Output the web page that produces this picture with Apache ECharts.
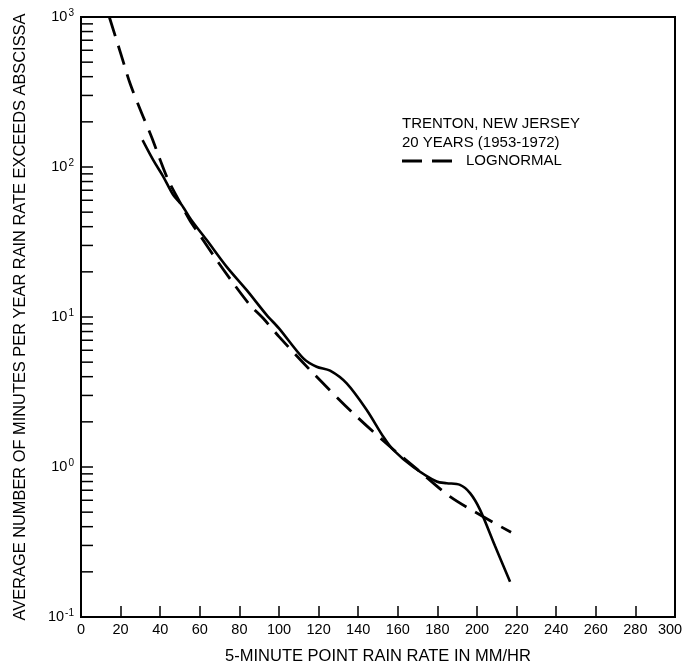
<!DOCTYPE html>
<html>
<head>
<meta charset="utf-8">
<script src="https://cdn.jsdelivr.net/npm/echarts@6/dist/echarts.min.js"></script>
<style>
html,body{margin:0;padding:0;background:#fff;}
#chart{width:685px;height:662px;}
</style>
</head>
<body>
<div id="chart"></div>
<script>
// Observed curve (solid)
const observedRate = [31.1, 36.5, 41.6, 46.6, 50.8, 55.9, 63.5, 73.6, 83.7, 93.8, 100, 112.3, 119, 125.8, 134.2, 144.3, 152.7, 157.7, 167.8, 179.6, 184.7, 191.4, 196.5, 201.5, 209, 216.7];
const observedMinutes = [151, 111, 86, 65, 56, 44, 32.6, 21.6, 15.1, 10.3, 8.4, 5.3, 4.66, 4.39, 3.61, 2.4, 1.59, 1.3, 1.0, 0.80, 0.78, 0.76, 0.67, 0.52, 0.30, 0.172];
// Lognormal fit (dashed)
const lognormalRate = [14.3, 20, 24.7, 30, 35.7, 39.9, 44, 50, 55, 60.1, 68.5, 76.9, 85.4, 92, 100, 115.7, 137.5, 156, 170, 186.4, 203.2, 217.2];
const lognormalMinutes = [1000, 575, 363, 240, 158, 112, 82, 58, 44, 35, 24, 16.8, 12.0, 9.8, 7.4, 4.43, 2.28, 1.37, 0.96, 0.634, 0.466, 0.367];
// Axis ticks
const yMajorTicks = [0.1, 1, 10, 100, 1000];
const yMinorTicks = [0.2,0.3,0.4,0.5,0.6,0.7,0.8,0.9, 2,3,4,5,6,7,8,9, 20,30,40,50,60,70,80,90, 200,300,400,500,600,700,800,900];
const titleLines = ['TRENTON, NEW JERSEY', '20 YEARS (1953-1972)'];
const legendName = 'LOGNORMAL';
const xAxisName = '5-MINUTE POINT RAIN RATE IN MM/HR';
const yAxisName = 'AVERAGE NUMBER OF MINUTES PER YEAR RAIN RATE EXCEEDS ABSCISSA';

const FONT = '"Liberation Sans", Arial, Helvetica, sans-serif';
const INK = '#000';

const chart = echarts.init(document.getElementById('chart'), null, {renderer: 'canvas'});

const zip = (xs, ys) => xs.map((x, i) => [x, ys[i]]);

chart.setOption({
  animation: false,
  backgroundColor: '#fff',
  textStyle: {fontFamily: FONT, color: INK},
  grid: {left: 81, right: 10, top: 17, bottom: 45, containLabel: false, outerBoundsMode: 'none',
         show: true, borderColor: INK, borderWidth: 2, backgroundColor: 'transparent'},
  title: {
    text: titleLines.join('\n'),
    left: 402, top: 114, padding: 0,
    textStyle: {fontFamily: FONT, fontSize: 15, fontWeight: 'normal', color: INK, lineHeight: 19}
  },
  legend: {
    data: [{name: legendName, icon: 'path://M0,0H20V3H0Z M30,0H50V3H30Z'}],
    left: 402, top: 152, padding: 0,
    itemWidth: 50, itemHeight: 3,
    textStyle: {fontFamily: FONT, fontSize: 15, color: INK, lineHeight: 18, padding: [0, 0, 0, 9]}
  },
  xAxis: {
    type: 'value', min: 0, max: 300, interval: 20,
    name: xAxisName, nameLocation: 'middle', nameGap: 31,
    nameTextStyle: {fontFamily: FONT, fontSize: 16.5, color: INK},
    axisLine: {show: true, lineStyle: {color: INK, width: 2}},
    axisTick: {show: true, inside: true, length: 11, lineStyle: {color: INK, width: 1.5}},
    axisLabel: {
      fontFamily: FONT, fontSize: 14.5, color: INK, margin: 5,
      formatter: function (v) { return v === 300 ? '{e|300}' : String(v); },
      rich: {e: {fontFamily: FONT, fontSize: 14.5, color: INK, padding: [0, 10, 0, 0]}}
    },
    splitLine: {show: false}
  },
  yAxis: {
    type: 'log', logBase: 10, min: 0.1, max: 1000,
    name: yAxisName, nameLocation: 'middle', nameGap: 53, nameRotate: 90,
    nameTextStyle: {fontFamily: FONT, fontSize: 16.4, color: INK},
    axisLine: {show: true, lineStyle: {color: INK, width: 2}},
    axisTick: {show: true, inside: true, length: 12, lineStyle: {color: INK, width: 1.5}},
    axisLabel: {
      margin: 7,
      formatter: function (v) {
        const e = Math.round(Math.log10(v));
        return '{b|10}{s|' + e + '}';
      },
      rich: {
        b: {fontFamily: FONT, fontSize: 14.5, color: INK, lineHeight: 18},
        s: {fontFamily: FONT, fontSize: 10, color: INK, lineHeight: 11, verticalAlign: 'top', padding: [0, 0, 0, 1]}
      }
    },
    splitLine: {show: false}
  },
  series: [
    {
      name: 'OBSERVED', type: 'line', data: zip(observedRate, observedMinutes),
      showSymbol: false, smooth: 0.3,
      lineStyle: {color: INK, width: 2.6}, itemStyle: {color: INK}, z: 3
    },
    {
      name: legendName, type: 'line', data: zip(lognormalRate, lognormalMinutes),
      showSymbol: false, smooth: 0.3,
      lineStyle: {color: INK, width: 2.8, type: [20, 10]}, itemStyle: {color: INK}, z: 3
    },
    {
      name: 'minorTicks', type: 'custom', silent: true, clip: false,
      data: yMinorTicks.map(v => [0, v]),
      encode: {x: 0, y: 1},
      renderItem: function (params, api) {
        const p = api.coord([api.value(0), api.value(1)]);
        return {type: 'line', shape: {x1: p[0], y1: p[1], x2: p[0] + 12, y2: p[1]}, style: {stroke: INK, lineWidth: 1.5}};
      }
    }
  ]
});
</script>
</body>
</html>
